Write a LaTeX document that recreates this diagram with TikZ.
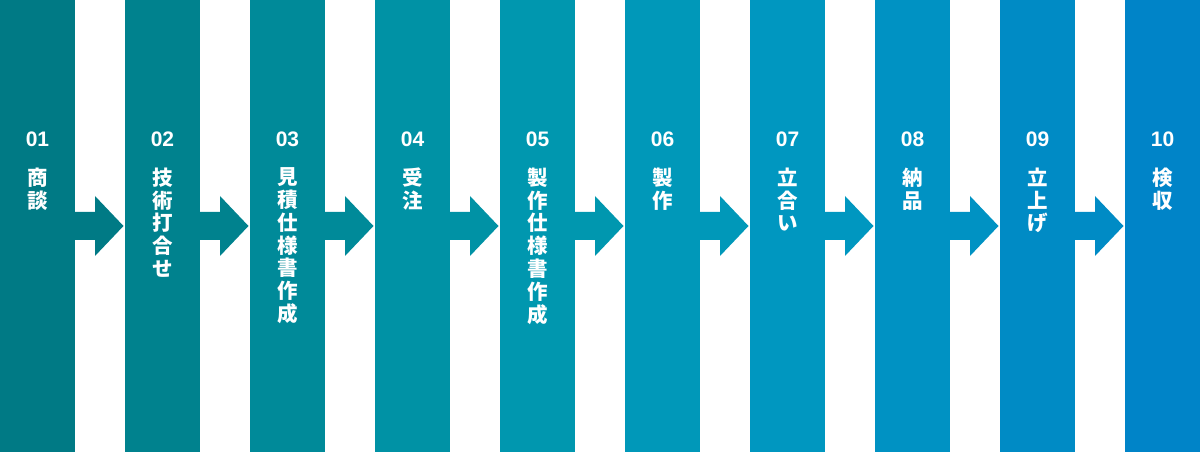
\documentclass[tikz,border=0pt]{standalone}
\usepackage{fontspec}
\setmainfont{Liberation Sans}
\newfontfamily\jpfont{Noto Sans CJK JP}
\usetikzlibrary{calc}
\definecolor{c1}{HTML}{007A85}
\definecolor{c2}{HTML}{00828E}
\definecolor{c3}{HTML}{008A99}
\definecolor{c4}{HTML}{0092A5}
\definecolor{c5}{HTML}{0097AF}
\definecolor{c6}{HTML}{0098B9}
\definecolor{c7}{HTML}{0097C0}
\definecolor{c8}{HTML}{0092C3}
\definecolor{c9}{HTML}{008BC5}
\definecolor{c10}{HTML}{0084C8}
\begin{document}
\begin{tikzpicture}[x=1pt,y=1pt,
  column/.style={minimum width=75pt, minimum height=452pt, inner sep=0pt, outer sep=0pt, anchor=south west},
  numlabel/.style={anchor=base, inner sep=0pt, text=white, font=\bfseries\fontsize{21}{24}\selectfont},
  steplabel/.style={anchor=north, inner sep=0pt, align=center, text=white, font=\jpfont\bfseries\fontsize{20.5}{22.8}\selectfont}]
\useasboundingbox (0,0) rectangle (1200,452);
\foreach \i/\lab/\txt in {1/01/{商\\談},2/02/{技\\術\\打\\合\\せ},3/03/{見\\積\\仕\\様\\書\\作\\成},4/04/{受\\注},5/05/{製\\作\\仕\\様\\書\\作\\成},6/06/{製\\作},7/07/{立\\合\\い},8/08/{納\\品},9/09/{立\\上\\げ},10/10/{検\\収}}{
  \node[column, fill=c\i] (c\i) at ({(\i-1)*125},0) {};
  \node[numlabel] (n\i) at ($(c\i.north)+(0,-146.7)$) {\lab};
  \node[steplabel] (t\i) at ($(c\i.north)+(0,-167.5)$) {\txt};
}
\foreach \i in {1,...,9}{
  \fill[c\i] ($(c\i.east)+(-0.5,14)$) -- ($(c\i.east)+(20,14)$) -- ($(c\i.east)+(20,30)$)
    -- ($(c\i.east)+(48.5,0)$) -- ($(c\i.east)+(20,-30)$) -- ($(c\i.east)+(20,-14)$)
    -- ($(c\i.east)+(-0.5,-14)$) -- cycle;
}
\end{tikzpicture}
\end{document}
